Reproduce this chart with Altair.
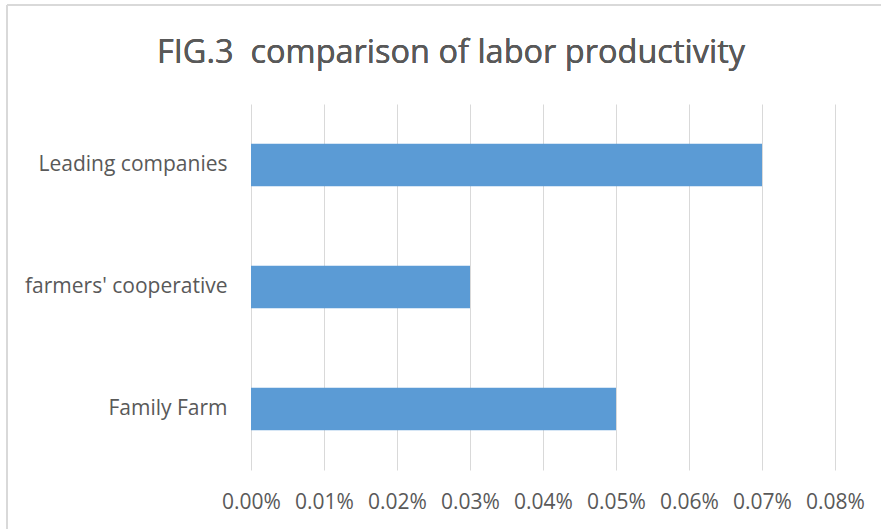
import altair as alt
import pandas as pd

categories = ["Leading companies", "farmers' cooperative", "Family Farm"]
values = [0.0007, 0.0003, 0.0005]
x_ticks = [0.0, 0.0001, 0.0002, 0.0003, 0.0004, 0.0005, 0.0006, 0.0007, 0.0008]
title_text = "FIG.3\u00a0 comparison of labor productivity"

df = pd.DataFrame({"category": categories, "value": values})

FONT = "Open Sans"
TXT = "#595959"
GRID = "#D9D9D9"

bars = alt.Chart(df).mark_bar(color="#5B9BD5").encode(
    x=alt.X(
        "value:Q",
        scale=alt.Scale(domain=[0, 0.0008], nice=False, zero=True),
        axis=alt.Axis(
            values=x_ticks,
            format=".2%",
            title=None,
            grid=True,
            gridColor=GRID,
            gridWidth=1,
            domain=False,
            ticks=False,
            labelFont=FONT,
            labelFontSize=21,
            labelColor=TXT,
            labelPadding=21,
            labelFlush=False,
            labelOverlap=False,
            labelBound=False,
        ),
    ),
    y=alt.Y(
        "category:N",
        sort=categories,
        scale=alt.Scale(paddingInner=0.65, paddingOuter=0.325),
        axis=alt.Axis(
            title=None,
            domain=False,
            ticks=False,
            grid=False,
            labelFont=FONT,
            labelFontSize=21,
            labelColor=TXT,
            labelPadding=24,
            labelLimit=300,
        ),
    ),
)

# decorative frame of the chart (top and left border lines)
frame_top = alt.Chart(df).mark_rule(color=GRID, strokeWidth=2).encode(
    x=alt.value(-244), x2=alt.value(640), y=alt.value(-99)
)
frame_left = alt.Chart(df).mark_rule(color=GRID, strokeWidth=2).encode(
    x=alt.value(-244), y=alt.value(-99), y2=alt.value(430)
)

title = alt.Chart(df).mark_text(
    font=FONT, fontSize=32.5, fontWeight="normal", color=TXT, align="center", baseline="middle"
).encode(
    x=alt.value(200), y=alt.value(-51), text=alt.datum(title_text)
)

chart = (
    alt.layer(frame_top, frame_left, bars, title)
    .properties(
        width=584,
        height=366,
        autosize=alt.AutoSizeParams(type="none"),
        padding={"left": 251, "top": 104, "right": 46, "bottom": 59},
        view=alt.ViewBackground(strokeWidth=0, strokeOpacity=0),
    )
    .configure_view(strokeWidth=0, strokeOpacity=0)
    .configure(background="white")
)

chart.save("out.html", embed_options={"renderer": "svg", "actions": False})
